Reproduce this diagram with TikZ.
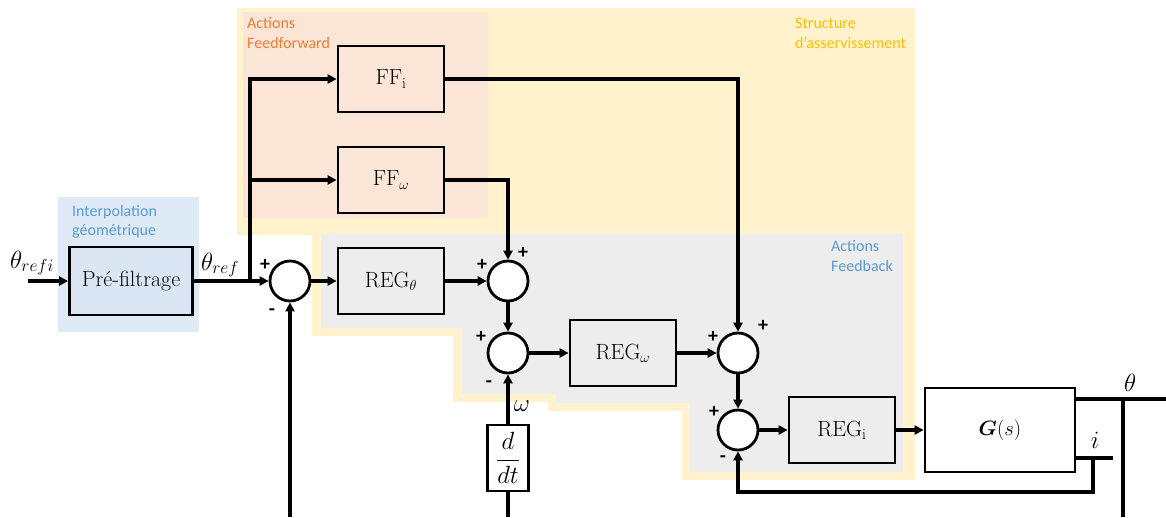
\documentclass[tikz,border=0pt]{standalone}
\usepackage{amsmath}
\usepackage{fontspec}
\usetikzlibrary{arrows.meta}
\newfontfamily\calib{Carlito}
\definecolor{ylw}{HTML}{FFF2CC}
\definecolor{salm}{HTML}{FBE5D6}
\definecolor{gry}{HTML}{EDEDED}
\definecolor{blu}{HTML}{DEEBF7}
\definecolor{blubox}{HTML}{DAE6F3}
\definecolor{orng}{HTML}{ED7D31}
\definecolor{gold}{HTML}{FFC000}
\definecolor{bltxt}{HTML}{5B9BD5}
\begin{document}
\begin{tikzpicture}[x=1pt,y=-1pt,
  blk/.style={draw,line width=2.8pt,minimum width=106pt,minimum height=66pt,inner sep=0pt,font=\fontsize{22}{26}\selectfont},
  sumc/.style={draw,circle,line width=2.8pt,fill=white,minimum size=40pt,inner sep=0pt},
  con/.style={line width=3.2pt},
  arr/.style={line width=3.2pt,-{Triangle[length=9pt,width=9pt]}},
  sgn/.style={font=\calib\bfseries\fontsize{20}{22}\selectfont,inner sep=0pt},
  rlab/.style={font=\calib\fontsize{16}{19}\selectfont,anchor=base west,inner sep=0pt},
  mlab/.style={font=\fontsize{24}{28}\selectfont,inner sep=0pt}
]
\useasboundingbox (0,0) rectangle (1166,517);
% regions
\fill[ylw] (237,8) -- (915,8) -- (915,480) -- (682,480) -- (682,411) -- (548,411) -- (548,402) -- (453,402) -- (453,336) -- (312,336) -- (312,235) -- (237,235) -- cycle;
\fill[salm] (243,12) rectangle (488,218);
\fill[gry] (321,234) -- (903,234) -- (903,472) -- (690,472) -- (690,403) -- (556,403) -- (556,394) -- (462,394) -- (462,328) -- (321,328) -- cycle;
\fill[blu] (58,197) rectangle (199,332);
% region labels
\node[rlab,text=orng] (l1a) at (247,28) {Actions};
\node[rlab,text=orng] (l1b) at (247,48) {Feedforward};
\node[rlab,text=gold] (l2a) at (795,28) {Structure};
\node[rlab,text=gold] (l2b) at (795,48) {d’asservissement};
\node[rlab,text=bltxt] (l3a) at (831,251) {Actions};
\node[rlab,text=bltxt] (l3b) at (831,271) {Feedback};
\node[rlab,text=bltxt] (l4a) at (72,216) {Interpolation};
\node[rlab,text=bltxt] (l4b) at (72,235) {géométrique};
% blocks
\node[blk,fill=blubox,minimum width=123pt,minimum height=68pt] (pre) at (131,281) {Pré-filtrage};
\node[blk] (FFi) at (391,79) {FF$_\mathrm{i}$};
\node[blk] (FFw) at (391,180) {FF$_\omega$};
\node[blk] (REGt) at (391,281) {REG$_\theta$};
\node[blk] (REGw) at (623,353) {REG$_\omega$};
\node[blk] (REGi) at (842,430) {REG$_\mathrm{i}$};
\node[blk,fill=white,minimum width=150pt,minimum height=84pt] (G) at (1000,430) {$\boldsymbol{G}(s)$};
\node[blk,fill=white,minimum width=41pt,minimum height=66pt,font=\fontsize{24}{28}\selectfont] (ddt) at (508,458) {$\dfrac{d}{dt}$};
\node[sumc] (s1) at (290,281) {};
\node[sumc] (s2) at (508,281) {};
\node[sumc] (s2b) at (508,353) {};
\node[sumc] (s3) at (738,353) {};
\node[sumc] (s4) at (738,430) {};
% coordinates
\coordinate (in) at (28,281);
\coordinate (j) at (250,281);
\coordinate (fb1) at (290,517);
\coordinate (fb2) at (508,517);
\coordinate (thR) at (1166,399);
\coordinate (thB) at (1123,517);
\coordinate (iR) at (1113,458);
\coordinate (iJ) at (1093,458);
\coordinate (iB) at (1093,492);
% connectors
\draw[arr] (in) -- (pre.west);
\draw[arr] (pre.east) -- (s1.west);
\draw[arr] (j) |- (FFi.west);
\draw[arr] (j |- FFw.west) -- (FFw.west);
\draw[arr] (s1.east) -- (REGt.west);
\draw[arr] (REGt.east) -- (s2.west);
\draw[arr] (FFw.east) -| (s2.north);
\draw[arr] (s2.south) -- (s2b.north);
\draw[arr] (FFi.east) -| (s3.north);
\draw[arr] (s2b.east) -- (REGw.west);
\draw[arr] (REGw.east) -- (s3.west);
\draw[arr] (s3.south) -- (s4.north);
\draw[arr] (s4.east) -- (REGi.west);
\draw[arr] (REGi.east) -- (G.west);
\draw[con] (G.east |- thR) -- (thR);
\draw[con] (thB) -- (thB |- thR);
\draw[con] (G.east |- iR) -- (iR);
\draw[arr] (iJ) -- (iB) -| (s4.south);
\draw[arr] (fb1) -- (s1.south);
\draw[con] (fb2) -- (ddt.south);
\draw[arr] (ddt.north) -- (s2b.south);
% signal labels
\node[mlab] (t1) at (32,263) {$\theta_{refi}$};
\node[mlab] (t2) at (220,265) {$\theta_{ref}$};
\node[mlab] (t3) at (522,406) {$\omega$};
\node[mlab] (t4) at (1130,383) {$\theta$};
\node[mlab] (t5) at (1095,440) {$i$};
% signs
\node[sgn] (p1) at (265,265) {+};
\node[sgn] (m1) at (272,312) {-};
\node[sgn] (p2) at (482,265) {+};
\node[sgn] (p2r) at (523,253) {+};
\node[sgn] (p3) at (481,337) {+};
\node[sgn] (m3) at (489,384) {-};
\node[sgn] (p4) at (713,337) {+};
\node[sgn] (p4r) at (763,326) {+};
\node[sgn] (p5) at (714,412) {+};
\node[sgn] (m5) at (723,459) {-};
\end{tikzpicture}
\end{document}
